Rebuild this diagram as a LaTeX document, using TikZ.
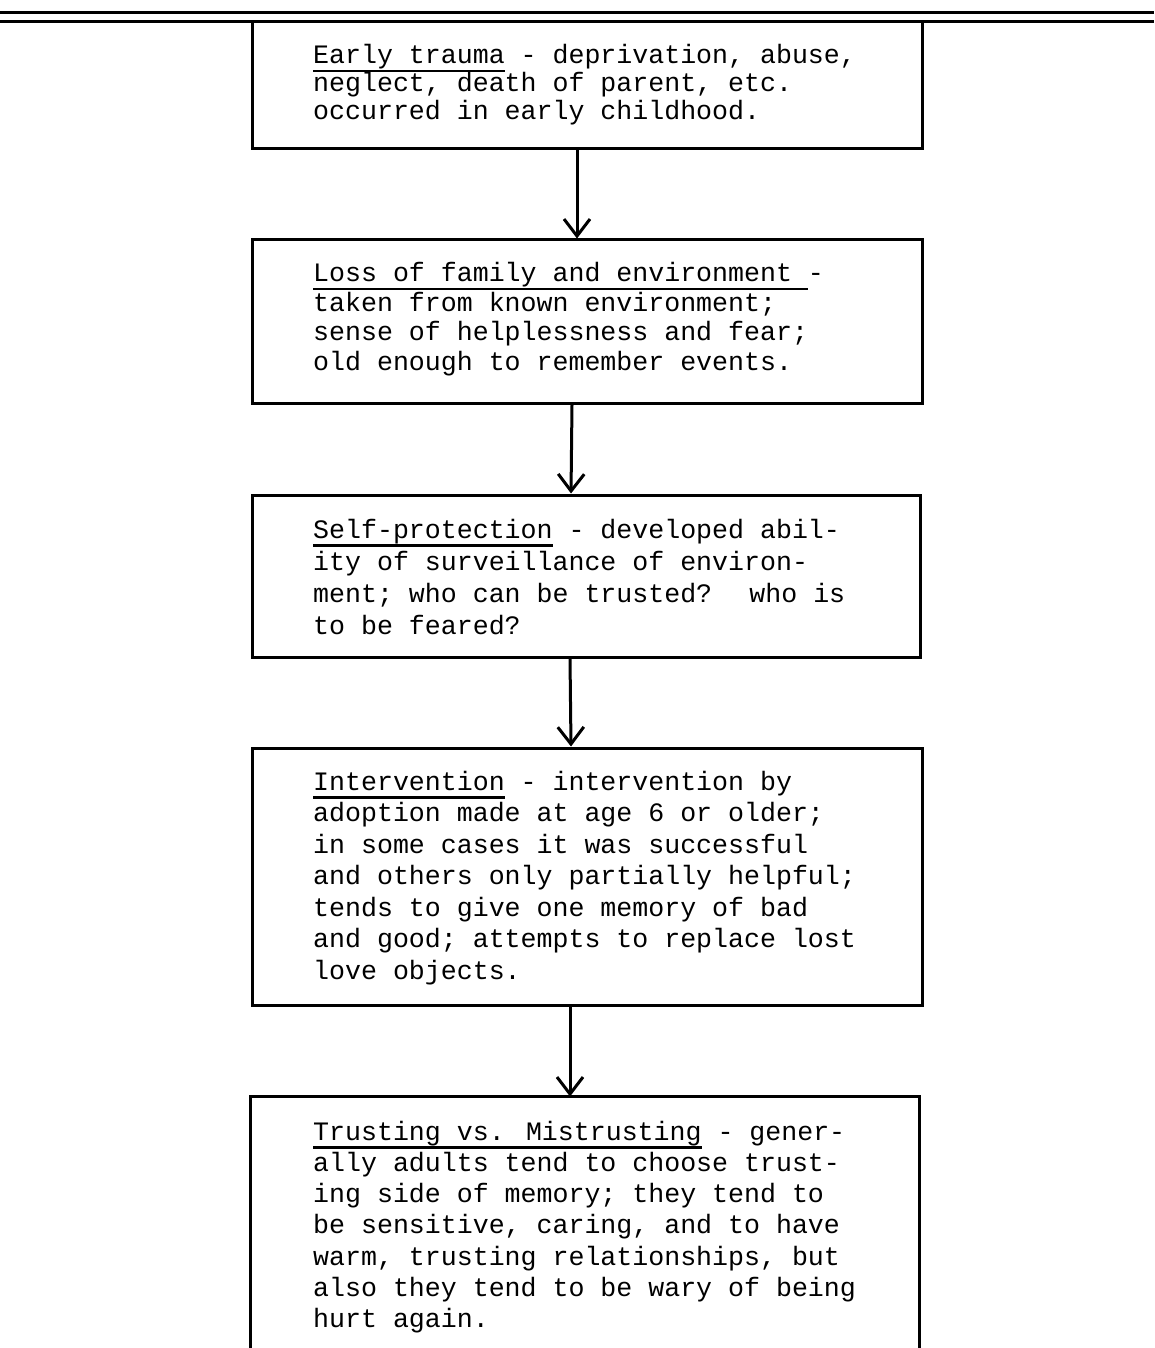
\documentclass[tikz,border=0pt]{standalone}
\usepackage{fontspec}
\newfontfamily\twfont{Liberation Mono}
\usetikzlibrary{arrows.meta}
\newcommand\ulh[1]{\setbox0=\hbox{#1}\rlap{\rule[-8.5pt]{\wd0}{2.6pt}}\box0\relax}
\begin{document}
\begin{tikzpicture}[x=1pt,y=-1pt,
  box/.style={draw, line width=3pt, minimum width=670pt, inner sep=0pt},
  txt/.style={anchor=west, align=left, inner sep=0pt, font=\twfont\fontsize{26.6pt}{31.5pt}\selectfont},
  conn/.style={line width=3pt, -{Straight Barb[length=17pt,width=26pt,line width=3pt]}},
  rulel/.style={line width=3pt}]
\useasboundingbox (0,0) rectangle (1154,1348);

% top double rule
\coordinate (r1l) at (0,13);
\coordinate (r1r) at (1154,13);
\coordinate (r2l) at (0,22);
\coordinate (r2r) at (1154,22);
\draw[rulel] (r1l) -- (r1r);
\draw[rulel] (r2l) -- (r2r);

% boxes
\node[box, minimum height=127pt] (b1) at (587,85.5) {};
\node[box, minimum height=163pt] (b2) at (587,321.5) {};
\node[box, minimum height=162pt, minimum width=668pt] (b3) at (586,576) {};
\node[box, minimum height=257pt] (b4) at (587,876.5) {};
\node[box, draw=none, minimum height=270pt, minimum width=666pt] (b5) at (585,1233) {};
\draw[rulel] (b5.south west) -- (b5.north west) -- (b5.north east) -- (b5.south east);

% texts
\node[txt, font=\twfont\fontsize{26.6pt}{28pt}\selectfont] (t1) at (313,85) {%
\ulh{Early trauma} - deprivation, abuse,\\
neglect, death of parent, etc.\\
occurred in early childhood.};

\node[txt, font=\twfont\fontsize{26.6pt}{29.5pt}\selectfont] (t2) at (313,319) {%
\ulh{Loss of family and environment }-\\
taken from known environment;\\
sense of helplessness and fear;\\
old enough to remember events.};

\node[txt, font=\twfont\fontsize{26.6pt}{32pt}\selectfont] (t3) at (313,577) {%
\ulh{Self-protection} - developed abil-\\
ity of surveillance of environ-\\
ment; who can be trusted?~ who is\\
to be feared?};

\node[txt] (t4) at (313,878) {%
\ulh{Intervention} - intervention by\\
adoption made at age 6 or older;\\
in some cases it was successful\\
and others only partially helpful;\\
tends to give one memory of bad\\
and good; attempts to replace lost\\
love objects.};

\node[txt, font=\twfont\fontsize{26.6pt}{31.3pt}\selectfont] (t5) at (313,1227) {%
\ulh{Trusting vs. Mistrusting} - gener-\\
ally adults tend to choose trust-\\
ing side of memory; they tend to\\
be sensitive, caring, and to have\\
warm, trusting relationships, but\\
also they tend to be wary of being\\
hurt again.};

% arrows
\draw[conn] ([xshift=-10pt]b1.south) -- ([xshift=-10pt]b2.north);
\draw[conn] ([xshift=-15pt]b2.south) -- ([xshift=-15pt]b3.north);
\draw[conn] ([xshift=-16pt]b3.south) -- ([xshift=-16pt]b4.north);
\draw[conn] ([xshift=-17pt]b4.south) -- ([xshift=-15pt]b5.north);
\end{tikzpicture}
\end{document}
